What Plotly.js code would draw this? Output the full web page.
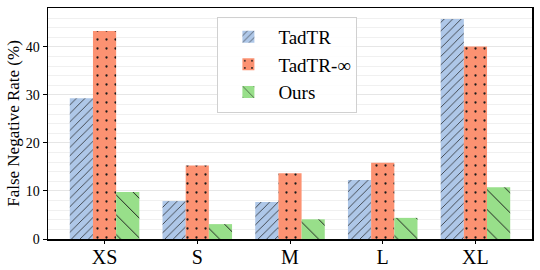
<!DOCTYPE html>
<html>
<head>
<meta charset="utf-8">
<script src="https://cdn.plot.ly/plotly-3.0.1.min.js"></script>
<style>html,body{margin:0;padding:0;background:#fff;}#chart{width:540px;height:270px;}</style>
</head>
<body>
<div id="chart"></div>
<script>
const categories = ["XS", "S", "M", "L", "XL"];
const seriesNames = ["TadTR", "TadTR-\u221E", "Ours"];
const tadtr = [29.3, 7.9, 7.7, 12.3, 45.8];
const tadtrInf = [43.3, 15.3, 13.7, 15.9, 40.1];
const ours = [9.8, 3.1, 4.1, 4.4, 10.8];
const yTickVals = [0, 10, 20, 30, 40];

const serif = "'Liberation Serif', 'Times New Roman', Times, serif";

function bar(name, y, color, shape, size, solidity) {
  return {
    type: "bar", name: name, x: categories, y: y,
    marker: {
      color: color,
      line: {width: 0},
      pattern: {shape: shape, size: size, solidity: solidity, fgcolor: "#1a1a1a", bgcolor: color, fillmode: "replace"}
    }
  };
}

const data = [
  bar(seriesNames[0], tadtr, "#aec7e8", "/", 6, 0.12),
  bar(seriesNames[1], tadtrInf, "#fc9272", ".", 9, 0.05),
  bar(seriesNames[2], ours, "#98df8a", "\\", 14, 0.07)
];

const layout = {
  width: 540, height: 270,
  margin: {l: 48, r: 8, t: 8, b: 31},
  paper_bgcolor: "#fff", plot_bgcolor: "#fff",
  barmode: "group", bargap: 0.25, bargroupgap: 0,
  font: {family: serif, size: 16, color: "#000"},
  xaxis: {
    type: "category", range: [-0.61, 4.61],
    showline: true, linecolor: "#000", linewidth: 1.5, mirror: true,
    ticks: "outside", ticklen: 3, tickcolor: "#000",
    ticklabelstandoff: -4,
    tickfont: {family: serif, size: 20, color: "#000"},
    showgrid: false, zeroline: false
  },
  yaxis: {
    range: [0, 48.1],
    tickmode: "array",
    tickvals: yTickVals,
    ticktext: yTickVals.map(String),
    showline: true, linecolor: "#000", linewidth: 1.5, mirror: true,
    ticks: "outside", ticklen: 4, tickcolor: "#000",
    tickfont: {family: serif, size: 14, color: "#000"},
    showgrid: true, gridcolor: "#e6e6e6", gridwidth: 1,
    minor: {tickmode: "linear", tick0: 0, dtick: 2, showgrid: true, gridcolor: "#f0f0f0", gridwidth: 1},
    zeroline: false,
    title: {text: "False Negative Rate (%)", font: {family: serif, size: 17, color: "#000"}, standoff: 2}
  },
  legend: {
    x: 0.35, y: 0.962, xanchor: "left", yanchor: "top",
    bgcolor: "rgba(255,255,255,0.85)", bordercolor: "#d0d0d0", borderwidth: 1,
    font: {family: serif, size: 19, color: "#000"},
    itemwidth: 50, tracegroupgap: 0
  },
  showlegend: true
};

Plotly.newPlot("chart", data, layout, {displayModeBar: false, staticPlot: true});
</script>
</body>
</html>
